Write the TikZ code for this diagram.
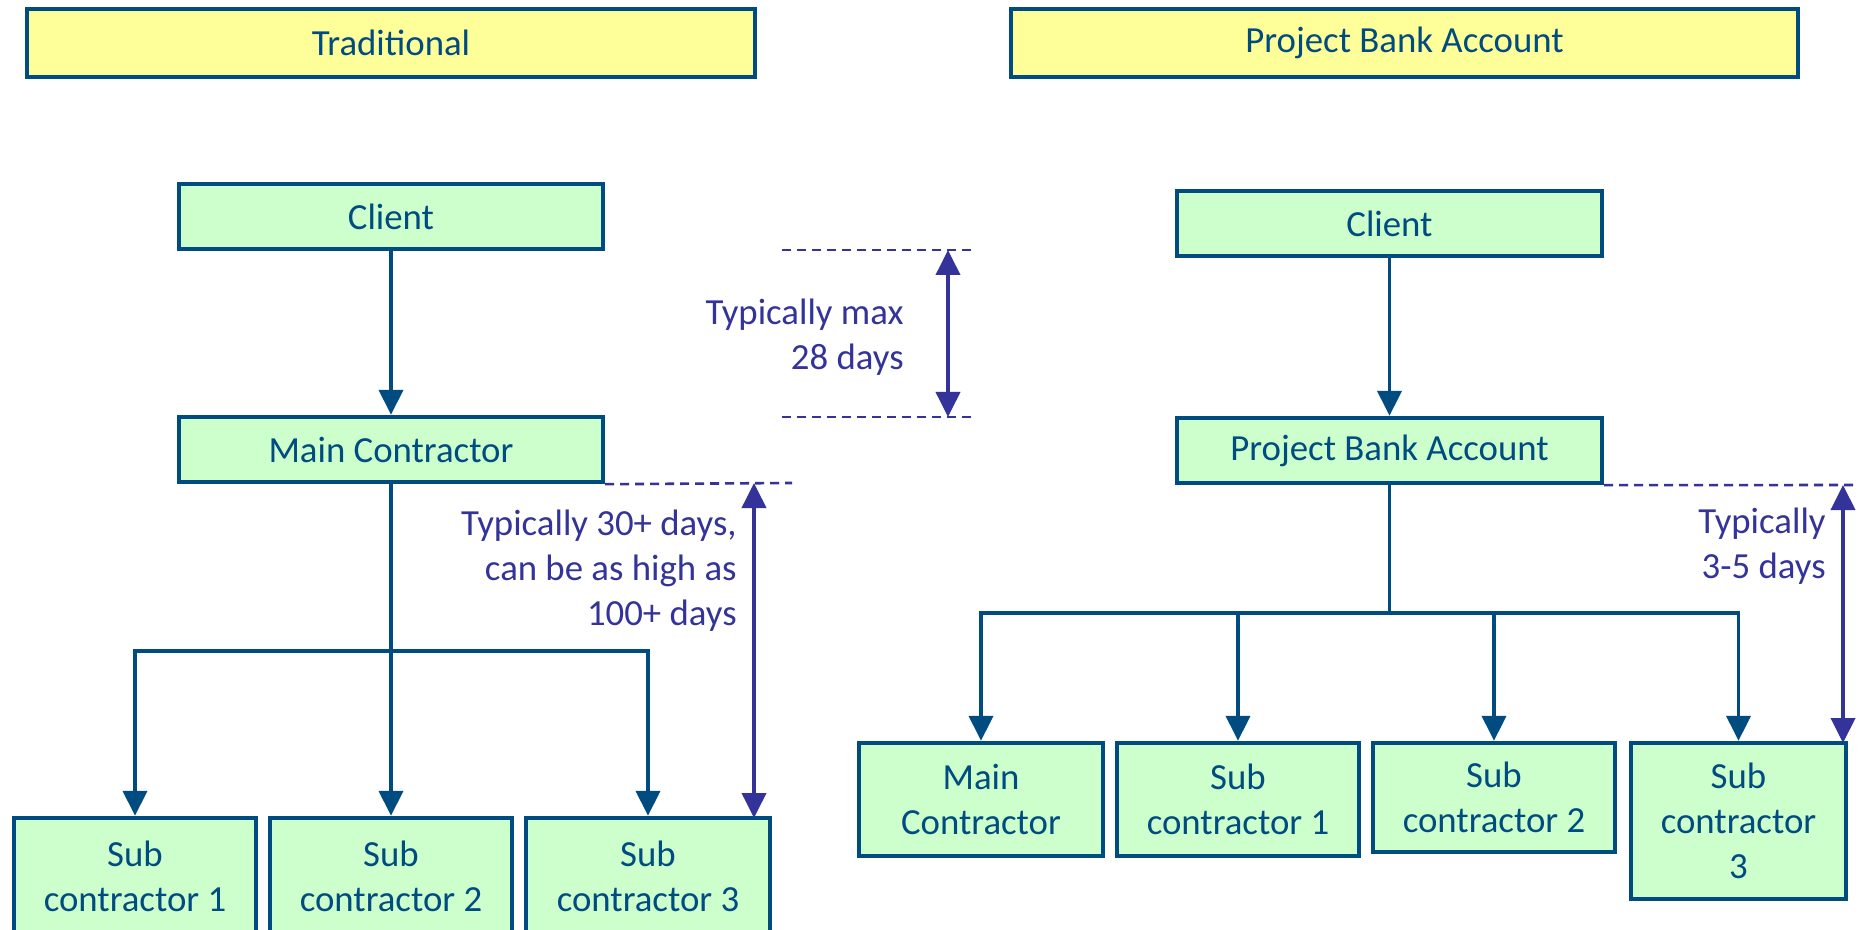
\documentclass[tikz,border=0pt]{standalone}
\usepackage{fontspec}
\setmainfont{Carlito}
\usetikzlibrary{arrows.meta}
\definecolor{dblue}{RGB}{0,75,128}
\definecolor{pur}{RGB}{51,51,153}
\definecolor{gfill}{RGB}{204,255,204}
\definecolor{yfill}{RGB}{255,255,153}
\begin{document}
\begin{tikzpicture}[x=0.5pt,y=-0.5pt,
  every node/.style={font=\fontsize{18.4}{22.5}\selectfont},
  gbox/.style={draw=dblue,line width=2.2pt,fill=gfill,text=dblue,align=center,inner sep=0pt},
  ybox/.style={draw=dblue,line width=2.2pt,fill=yfill,text=dblue,align=center,inner sep=0pt},
  arr/.style={draw=dblue,line width=1.9pt,-{Triangle[length=12.5pt,width=12pt]}},
  conn/.style={draw=dblue,line width=1.9pt},
  dimline/.style={draw=pur,line width=1.3pt,dash pattern=on 4.5pt off 3pt},
  dimarr/.style={draw=pur,line width=1.9pt,{Triangle[length=12.5pt,width=12pt]}-{Triangle[length=12.5pt,width=12pt]}},
  note/.style={text=pur,align=right,inner sep=0pt}]
\useasboundingbox (0,0) rectangle (1858,930);
% titles
\node[ybox,minimum width=364pt,minimum height=34pt] (ttrad) at (391,43) {Traditional};
\node[ybox,minimum width=393.5pt,minimum height=34pt] (tpba) at (1404.5,43) {Project Bank Account};
% left side
\node[gbox,minimum width=212pt,minimum height=32.5pt] (lclient) at (391,216.5) {Client};
\node[gbox,minimum width=212pt,minimum height=32.5pt] (lmain) at (391,449.5) {Main Contractor};
\node[gbox,minimum width=121pt,minimum height=58.5pt] (lsub1) at (135,876.5) {Sub\\contractor 1};
\node[gbox,minimum width=121pt,minimum height=58.5pt] (lsub2) at (391,876.5) {Sub\\contractor 2};
\node[gbox,minimum width=122pt,minimum height=58.5pt] (lsub3) at (648,876.5) {Sub\\contractor 3};
\draw[arr] (lclient) -- (lmain);
\coordinate (lj) at (391,651);
\draw[conn] (lmain) -- (lj);
\draw[arr] (lj) -| (lsub1);
\draw[arr] (lj) -- (lsub2);
\draw[arr] (lj) -| (lsub3);
% right side
\node[gbox,minimum width=212.5pt,minimum height=32.5pt] (rclient) at (1389.5,223.5) {Client};
\node[gbox,minimum width=212.5pt,minimum height=32.5pt] (rpba) at (1389.5,450.5) {Project Bank Account};
\node[gbox,minimum width=122pt,minimum height=56.5pt] (rmain) at (981,799.5) {Main\\Contractor};
\node[gbox,minimum width=121pt,minimum height=56.5pt] (rsub1) at (1238,799.5) {Sub\\contractor 1};
\node[gbox,minimum width=121pt,minimum height=54.5pt] (rsub2) at (1494,797.5) {Sub\\contractor 2};
\node[gbox,minimum width=107.5pt,minimum height=78pt] (rsub3) at (1738.5,821) {Sub\\contractor\\3};
\draw[arr] (rclient) -- (rpba);
\coordinate (rj) at (1389.5,613);
\draw[conn] (rpba) -- (rj);
\draw[arr] (rj) -| (rmain);
\draw[arr] (rj) -| (rsub1);
\draw[arr] (rj) -| (rsub2);
\draw[arr] (rj) -| (rsub3);
% dimension 28 days
\coordinate (d1a) at (782,250); \coordinate (d1b) at (974,250);
\coordinate (d2a) at (782,417); \coordinate (d2b) at (974,417);
\draw[dimline] (d1a) -- (d1b);
\draw[dimline] (d2a) -- (d2b);
\coordinate (a1t) at (948,250); \coordinate (a1b) at (948,417);
\draw[dimarr] (a1t) -- (a1b);
\node[note,anchor=east] (n1) at (904,337) {Typically max\\28 days};
% dimension 30+ days
\coordinate (d3b) at (792,483);
\draw[dimline] (lmain.south east) -- (d3b);
\coordinate (a2t) at (754,483); \coordinate (a2b) at (754,818);
\draw[dimarr] (a2t) -- (a2b);
\node[note,anchor=east] (n2) at (737,571) {Typically 30+ days,\\can be as high as\\100+ days};
% dimension 3-5 days
\coordinate (d4b) at (1858,485);
\draw[dimline] (rpba.south east) -- (d4b);
\coordinate (a3t) at (1843,485); \coordinate (a3b) at (1843,743);
\draw[dimarr] (a3t) -- (a3b);
\node[note,anchor=east] (n3) at (1826,546.5) {Typically\\3-5 days};
\end{tikzpicture}
\end{document}
